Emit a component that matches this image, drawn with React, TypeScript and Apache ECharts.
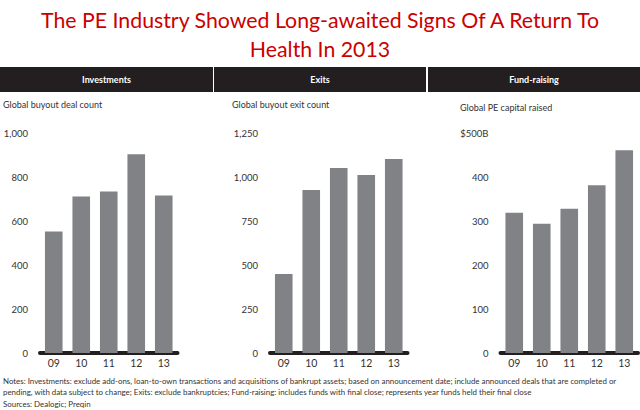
import React, { useEffect, useRef } from "react";
import * as echarts from "echarts";

const years = ["09", "10", "11", "12", "13"];
const dealCount = [552, 711, 734, 903, 716];
const exitCount = [449, 926, 1051, 1011, 1102];
const capitalRaised = [319, 294, 328, 381, 461];

const panelTitles = ["Investments", "Exits", "Fund-raising"];
const subtitles = ["Global buyout deal count", "Global buyout exit count", "Global PE capital raised"];
const axisMax = [1000, 1250, 500];
const axisInterval = [200, 250, 100];

const titleText = "The PE Industry Showed Long-awaited Signs Of A Return To\nHealth In 2013";
const notesText =
  "Notes: Investments: exclude add-ons, loan-to-own transactions and acquisitions of bankrupt assets; based on announcement date; include announced deals that are completed or\npending, with data subject to change; Exits: exclude bankruptcies; Fund-raising: includes funds with final close; represents year funds held their final close\nSources: Dealogic; Preqin";

const FONT = "Lato";
const BAR = "#818285";
const DARK = "#231f20";
const TEXT = "#333333";

export default function App() {
  const ref = useRef<HTMLDivElement>(null);
  useEffect(() => {
    document.body.style.margin = "0";
    const chart = echarts.init(ref.current!, undefined, { renderer: "svg" });
    const gridLefts = [40, 270, 500.5];
    const headerRects = [
      [0, 213],
      [214, 426],
      [428, 640],
    ];
    const subX = [3, 232, 460];
    const subY = [104, 104, 107];
    const data = [dealCount, exitCount, capitalRaised];

    const fmt = (i: number) => (v: number) => {
      if (i === 2 && v === 500) return "$500B";
      return v.toLocaleString("en-US");
    };

    const graphic: any[] = [];
    headerRects.forEach(([x0, x1], i) => {
      graphic.push({
        type: "rect",
        shape: { x: x0, y: 67, width: x1 - x0, height: 25 },
        style: { fill: DARK },
      });
      graphic.push({
        type: "text",
        x: (x0 + x1) / 2,
        y: 79.5,
        style: {
          text: panelTitles[i],
          fill: "#ffffff",
          font: `bold 9px ${FONT}`,
          align: "center",
          verticalAlign: "middle",
        },
      });
      graphic.push({
        type: "text",
        x: subX[i],
        y: subY[i],
        style: {
          text: subtitles[i],
          fill: TEXT,
          font: `9px ${FONT}`,
          align: "left",
          verticalAlign: "middle",
        },
      });
    });
    graphic.push({
      type: "text",
      x: 3,
      y: 375,
      style: {
        text: notesText,
        fill: TEXT,
        font: `7.9px ${FONT}`,
        lineHeight: 11.5,
        align: "left",
        verticalAlign: "top",
      },
    });

    chart.setOption({
      animation: false,
      title: {
        text: titleText,
        left: "center",
        top: 0,
        textStyle: {
          color: "#cc0000",
          fontFamily: FONT,
          fontWeight: "normal",
          fontSize: 21.3,
          lineHeight: 29,
        },
      },
      grid: gridLefts.map((l) => ({ left: l, width: 137.5, top: 133, bottom: 57 })),
      xAxis: gridLefts.map((_, i) => ({
        type: "category",
        gridIndex: i,
        data: years,
        axisTick: { show: false },
        axisLine: { lineStyle: { color: DARK, width: 4 } },
        axisLabel: { color: TEXT, fontFamily: FONT, fontSize: 10.5, margin: 4 },
      })),
      yAxis: gridLefts.map((_, i) => ({
        type: "value",
        gridIndex: i,
        min: 0,
        max: axisMax[i],
        interval: axisInterval[i],
        splitLine: { show: false },
        axisLine: { show: false },
        axisTick: { show: false },
        axisLabel: { color: TEXT, fontFamily: FONT, fontSize: 9.5, margin: 12, formatter: fmt(i) },
      })),
      series: data.map((d, i) => ({
        type: "bar",
        xAxisIndex: i,
        yAxisIndex: i,
        data: d,
        barCategoryGap: "36%",
        itemStyle: { color: BAR },
      })),
      graphic,
    });
    return () => chart.dispose();
  }, []);
  return <div ref={ref} style={{ width: 640, height: 410 }} />;
}
